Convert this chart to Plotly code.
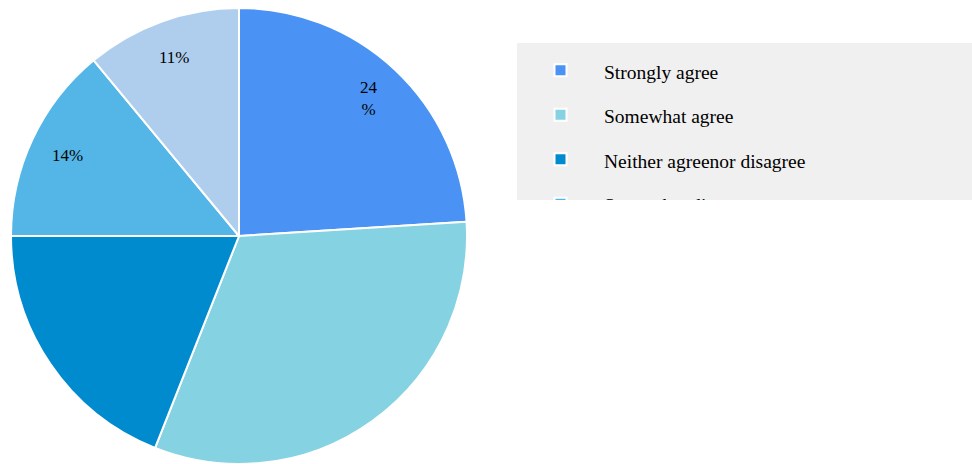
import math
import plotly.graph_objects as go

# Survey responses (share of respondents, %)
categories = ["Strongly agree", "Somewhat agree", "Neither agreenor disagree",
              "Somewhat disagree", "Strongly disagree"]
shares = [24, 32, 19, 14, 11]
slice_colors = ["#4A93F5", "#85D2E3", "#008BCF", "#54B6E6", "#AFCEEE"]
# which slices carry a percentage label
labelled = [True, False, False, True, True]

W, H = 972, 464

# pie placement (paper fractions)
dom_x = [11 / W, 467 / W]
dom_y = [0, 456 / H]

# legend rows are spaced by the legend font; the entry text itself is smaller,
# padded so the grey legend panel runs to the right edge of the page
legend_names = [
    f"<span style='font-size:19.5px;baseline-shift:4px'>{c}{chr(160) * 33}</span>"
    for c in categories
]

fig = go.Figure(
    go.Pie(
        labels=legend_names,
        hovertext=categories,
        values=shares,
        textinfo="none",
        marker=dict(colors=slice_colors, line=dict(color="#FFFFFF", width=2)),
        sort=False,
        direction="clockwise",
        rotation=0,
        hovertemplate="%{hovertext}: %{percent}<extra></extra>",
        domain=dict(x=dom_x, y=dom_y),
    )
)

# percentage labels placed on each slice's bisector, near the rim
cx = (dom_x[0] + dom_x[1]) / 2 * W
cy = (1 - (dom_y[0] + dom_y[1]) / 2) * H
radius = min((dom_x[1] - dom_x[0]) * W, (dom_y[1] - dom_y[0]) * H) / 2
total = sum(shares)
start = 0.0
for v, show in zip(shares, labelled):
    frac = v / total
    mid = (start + frac / 2) * 2 * math.pi
    start += frac
    if not show:
        continue
    pct = round(100 * frac)
    r = 0.83 * radius
    px = cx + r * math.sin(mid)
    py = cy - r * math.cos(mid)
    fig.add_annotation(
        x=px / W, y=1 - py / H, xref="paper", yref="paper",
        text=f"{pct}<br>%" if pct >= 20 else f"{pct}%",
        showarrow=False,
        font=dict(family="Liberation Serif", size=17, color="#000000"),
        xanchor="center", yanchor="middle",
    )

fig.update_layout(
    width=W,
    height=H,
    margin=dict(l=0, r=0, t=0, b=0),
    paper_bgcolor="#FFFFFF",
    plot_bgcolor="#FFFFFF",
    showlegend=True,
    legend=dict(
        x=1,
        xanchor="right",
        y=1 - 43 / H,
        yanchor="top",
        bgcolor="#F0F0F0",
        borderwidth=0,
        itemwidth=77,
        maxheight=157,
        font=dict(family="Liberation Serif", size=31.9, color="#000000"),
        traceorder="normal",
    ),
)

fig.write_html("out.html", config={"staticPlot": True})
